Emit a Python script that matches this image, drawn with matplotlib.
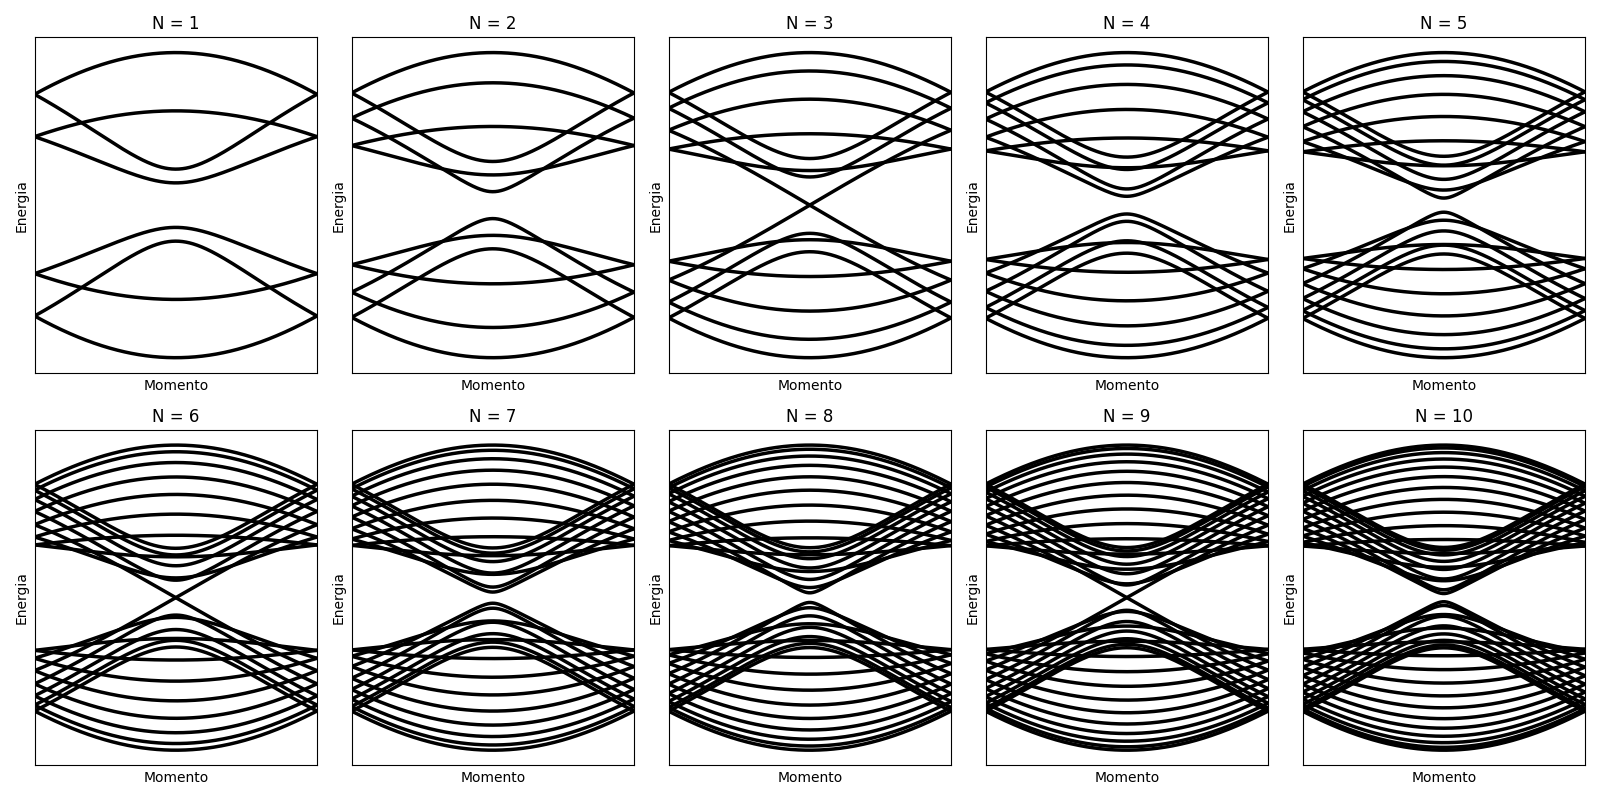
import numpy as np
import matplotlib
matplotlib.use("Agg")
import matplotlib.pyplot as plt

# ribbon sizes shown in the panels
N_values = [1, 2, 3, 4, 5, 6, 7, 8, 9, 10]
t = 1.0  # hopping
k = np.linspace(-np.pi, np.pi, 400)  # momentum along the ribbon


def bands(N, k, t=1.0):
    # armchair ribbon with 2N+2 dimer lines -> 4N+4 bands
    Na = 2 * N + 2
    out = []
    for p in range(1, Na + 1):
        c = np.cos(p * np.pi / (Na + 1))
        e = t * np.sqrt(1 + 4 * c**2 + 4 * c * np.cos(k / 2))
        out.append(e)
        out.append(-e)
    return out


fig, axes = plt.subplots(2, 5, figsize=(16, 8))

for ax, N in zip(axes.flat, N_values):
    for e in bands(N, k, t):
        ax.plot(k, e, color='black', linewidth=2.5)
    ax.set_xlim(k[0], k[-1])
    ax.set_xticks([])
    ax.set_yticks([])
    ax.set_title(f"N = {N}", fontsize=12)
    ax.set_xlabel("Momento")
    ax.set_ylabel("Energia")

plt.tight_layout()
plt.savefig("out.png", dpi=100)
